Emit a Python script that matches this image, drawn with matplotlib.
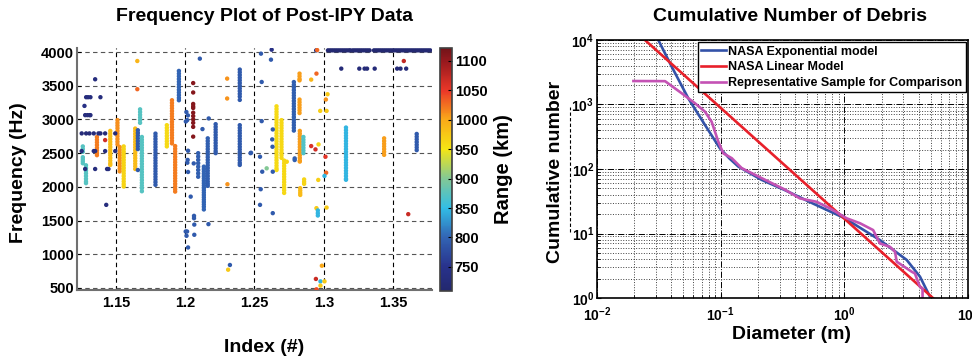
import numpy as np
import matplotlib
matplotlib.use("Agg")
import matplotlib.pyplot as plt
from matplotlib.colors import LinearSegmentedColormap, Normalize
from matplotlib.lines import Line2D

plt.rcParams['font.family'] = ['Liberation Sans', 'DejaVu Sans']
plt.rcParams['font.weight'] = 'bold'
plt.rcParams['mathtext.fontset'] = 'custom'
plt.rcParams['mathtext.rm'] = 'Liberation Sans:bold'
plt.rcParams['mathtext.it'] = 'Liberation Sans:bold'
plt.rcParams['mathtext.bf'] = 'Liberation Sans:bold'

# ---------------- left panel data (Post-IPY frequency plot) ----------------
# vertical tracks: index position, range (km), frequencies (Hz)
col_index = [1.1262, 1.1285, 1.1364, 1.1460, 1.1512, 1.1528, 1.1557, 1.1640, 1.1659,
             1.1675, 1.1688, 1.1786, 1.1868, 1.1905, 1.1928, 1.1955, 1.2058, 1.2094,
             1.2135, 1.2163, 1.2220, 1.2394, 1.2394, 1.2659, 1.2695, 1.2714, 1.2784,
             1.2825, 1.2825, 1.2827, 1.2830, 1.2853, 1.2858, 1.3160, 1.3435, 1.3670]
col_range = [872, 872, 1020, 982, 1012, 1012, 965, 985, 790,
             872, 872, 790, 960, 1020, 1020, 800, 1110, 795,
             800, 795, 790, 790, 790, 960, 962, 962, 795,
             1005, 1005, 1005, 985, 870, 965, 845, 1005, 790]
col_freq = [
    [2600, 2560, 2520, 2440, 2410, 2380, 2350],
    [2320, 2280, 2240, 2200, 2160, 2120, 2080, 2055],
    [2740, 2700, 2660, 2620, 2580, 2540, 2500, 2470],
    [2830, 2790, 2750, 2710, 2670, 2630, 2590, 2550, 2510, 2470, 2430, 2390, 2350, 2325],
    [2990, 2950, 2910, 2870, 2830, 2790, 2750, 2710, 2670, 2630],
    [2590, 2550, 2510, 2470, 2430, 2390, 2350, 2310, 2270, 2230],
    [2600, 2560, 2520, 2480, 2440, 2400, 2360, 2320, 2280, 2240, 2200, 2160, 2120, 2080, 2040, 2005],
    [2865, 2825, 2785, 2745, 2705, 2665, 2625, 2585, 2545, 2505, 2465, 2425, 2385, 2345, 2305, 2265],
    [2840, 2800, 2760, 2720, 2680, 2640, 2600, 2560],
    [3150, 3110, 3070, 3030, 2990, 2950],
    [2740, 2700, 2660, 2620, 2580, 2540, 2500, 2460, 2420, 2380, 2340, 2300, 2260, 2220,
     2180, 2140, 2100, 2060, 2020, 1980, 1935],
    [2790, 2750, 2710, 2670, 2630, 2590, 2550, 2510, 2470, 2430, 2390, 2350, 2310, 2270,
     2230, 2190, 2150, 2110, 2070, 2030],
    [2915, 2875, 2835, 2795, 2755, 2715, 2675, 2635, 2600],
    [3285, 3245, 3205, 3165, 3125, 3085, 3045, 3005, 2965, 2925, 2885, 2845, 2805, 2765,
     2725, 2685, 2645],
    [2605, 2565, 2525, 2485, 2445, 2405, 2365, 2325, 2285, 2245, 2205, 2165, 2125, 2085,
     2045, 2005, 1965, 1930],
    [3720, 3680, 3640, 3600, 3560, 3520, 3480, 3440, 3400, 3360, 3320, 3285],
    [3540, 3400, 3230, 3195, 3170, 3100, 3050, 3000, 2950, 2890, 2745],
    [2500, 2450, 2400, 2350, 2300, 2250, 2200, 2150],
    [2300, 2265, 2230, 2195, 2160, 2125, 2090, 2055, 2020, 1985, 1950, 1915, 1880, 1845,
     1810, 1775, 1740, 1705, 1665],
    [2720, 2680, 2640, 2600, 2560, 2520, 2480, 2440, 2400, 2360, 2320, 2280, 2240, 2200,
     2160, 2120, 2080, 2045, 2015],
    [2930, 2890, 2850, 2810, 2770, 2730, 2690, 2650, 2610, 2570, 2530, 2500],
    [3740, 3700, 3660, 3620, 3580, 3540, 3500, 3460, 3420, 3380, 3340, 3290],
    [2915, 2875, 2835, 2795, 2755, 2715, 2675, 2635, 2595, 2555, 2515, 2475, 2435, 2395,
     2355, 2325],
    [3195, 3155, 3115, 3075, 3035, 2995, 2955, 2915, 2875, 2835, 2795, 2755, 2715, 2675,
     2635, 2595, 2555, 2515, 2475, 2435, 2395, 2355, 2315, 2275, 2250],
    [2990, 2950, 2910, 2870, 2830, 2790, 2750, 2710, 2670, 2630, 2590, 2550, 2510, 2470, 2430],
    [2390, 2350, 2310, 2270, 2230, 2190, 2150, 2110, 2070, 2030, 1990, 1950, 1910],
    [3555, 3515, 3475, 3435, 3395, 3355, 3315, 3275, 3235, 3195, 3155, 3115, 3075, 3035,
     2995, 2955, 2915, 2875, 2835],
    [3680, 3640, 3600, 3580],
    [3295, 3255, 3215, 3175, 3135, 3095],
    [2830, 2790, 2750, 2710, 2670, 2630, 2590, 2550, 2510, 2470, 2430, 2390, 2375],
    [1980, 1945, 1910, 1880],
    [2740, 2700, 2660, 2620, 2580, 2540, 2500],
    [2110, 2075, 2045],
    [2880, 2840, 2800, 2760, 2720, 2680, 2640, 2600, 2560, 2520, 2480, 2440, 2400, 2360,
     2320, 2280, 2240, 2200, 2160, 2120, 2105],
    [2720, 2680, 2640, 2600, 2560, 2520, 2475],
    [2785, 2745, 2705, 2665, 2625, 2585, 2545],
]

# horizontal runs of near-range echoes (~725 km)
row4025_index = [1.3030, 1.3045, 1.3060, 1.3075, 1.3090, 1.3105, 1.3120, 1.3135, 1.3150,
                 1.3165, 1.3180, 1.3192, 1.3210, 1.3225, 1.3240, 1.3255, 1.3270, 1.3285,
                 1.3300, 1.3315, 1.3330, 1.3362, 1.3377, 1.3392, 1.3407, 1.3422, 1.3437,
                 1.3452, 1.3467, 1.3482, 1.3497, 1.3512, 1.3527, 1.3542, 1.3557, 1.3572,
                 1.3587, 1.3602, 1.3617, 1.3632, 1.3647, 1.3662, 1.3677, 1.3692, 1.3707,
                 1.3722, 1.3737, 1.3752, 1.3767]
row3754_index = [1.3126, 1.3256, 1.3294, 1.3312, 1.3367, 1.3529, 1.3553, 1.3594]
row2793_index = [1.1254, 1.1286, 1.1310, 1.1341, 1.1375, 1.1389, 1.1423, 1.1496]

# isolated detections
pt_index = [1.1351, 1.1286, 1.1300, 1.1317, 1.1389, 1.1274, 1.1279, 1.1295, 1.1310, 1.1317,
            1.1254, 1.1341, 1.1351, 1.1423, 1.1496, 1.1279, 1.1351, 1.1437, 1.1447, 1.1431,
            1.1423, 1.1655, 1.1655, 1.1659,
            1.2009, 1.2020, 1.2015, 1.2005, 1.2021, 1.2018, 1.2016, 1.2021, 1.2040, 1.2004,
            1.2014, 1.2010, 1.2021, 1.2062, 1.2064, 1.2064, 1.2066, 1.2066, 1.2106, 1.2125,
            1.2170, 1.2168, 1.2303, 1.2303, 1.2305, 1.2323, 1.2310, 1.2472,
            1.2624, 1.2547, 1.2619, 1.2552, 1.2552, 1.2632, 1.2628, 1.2630, 1.2475, 1.2540,
            1.2556, 1.2632, 1.2545, 1.2540, 1.2632, 1.2588, 1.2733, 1.2790, 1.2790,
            1.2909, 1.2947, 1.2909, 1.2940, 1.2962, 1.2974, 1.2960, 1.2947, 1.2957, 1.2957,
            1.2957, 1.2945, 1.2952, 1.3015, 1.3027, 1.3020, 1.3012, 1.3017, 1.3005, 1.3020,
            1.2986, 1.2943, 1.2976, 1.3005, 1.2976, 1.2947, 1.3577, 1.3609]
pt_freq = [3596, 3330, 3330, 3330, 3330, 3201, 3064, 3064, 3064, 3064,
           2531, 2531, 2531, 2531, 2531, 2265, 2265, 2265, 2265, 1733,
           2694, 3867, 3449, 2250,
           3110, 3060, 2990, 2970, 2536, 2400, 2358, 2221, 1855, 1338,
           1338, 1274, 1101, 2348, 1570, 1535, 1440, 1289, 3902, 2857,
           3015, 1447, 3606, 3311, 2039, 841, 771, 2500,
           4035, 3976, 3887, 3556, 2975, 2852, 2704, 2595, 2506, 2447,
           2225, 2225, 1965, 1733, 1610, 2275, 2373, 2422, 2398,
           3591, 3680, 2605, 2556, 2630, 3127, 2103, 1684, 1650, 1610,
           1575, 4025, 4030, 3296, 3374, 3127, 2447, 2210, 2162, 1693,
           830, 634, 598, 598, 535, 480, 3867, 1595]
pt_range = [730, 730, 730, 730, 730, 740, 730, 730, 730, 730,
            730, 730, 730, 730, 730, 730, 730, 730, 730, 730,
            1065, 990, 1030, 790,
            790, 790, 790, 790, 790, 790, 790, 790, 790, 790,
            790, 790, 790, 790, 790, 790, 790, 790, 790, 790,
            790, 790, 1010, 1010, 1010, 790, 975, 790,
            740, 790, 790, 790, 790, 790, 790, 790, 790, 790,
            790, 790, 790, 790, 790, 900, 965, 795, 795,
            990, 1030, 1060, 1065, 965, 970, 970, 975, 845, 845,
            845, 730, 1030, 1010, 975, 975, 1055, 1030, 845, 975,
            1000, 1070, 845, 975, 975, 1040, 1075, 1070]

# ---------------- right panel data (cumulative debris number) ----------------
exp_diam = [0.0313, 0.0402, 0.0547, 0.0747, 0.0986, 0.118, 0.139, 0.214, 0.331, 0.561,
            1.01, 1.94, 3.19, 4.09, 4.92]
exp_count = [10000, 3855, 1248, 481, 209, 145, 109, 68, 47, 29,
             17.2, 7.9, 3.9, 2.14, 1.05]
lin_diam = [0.0244, 5.2]
lin_count = [10000, 1.0]
sample_diam = [0.0197, 0.0355, 0.0484, 0.062, 0.0746, 0.0845, 0.0957, 0.105, 0.123, 0.148,
               0.215, 0.33, 0.437, 0.597, 0.766, 1.045, 1.34, 1.71, 1.94, 2.34, 2.57,
               2.65, 3.50, 3.72, 4.08, 4.29, 4.29]
sample_count = [2311, 2300, 1493, 1045, 775, 541, 265, 175, 147, 103,
                72, 48, 35, 31, 24.5, 17.2, 14.4, 11.3, 7.0, 6.2, 5.2,
                3.66, 2.56, 2.4, 1.5, 1.4, 0.9]

# assemble scatter arrays
idx_all, freq_all, rng_all = [], [], []
for x, r, fs in zip(col_index, col_range, col_freq):
    idx_all += [x] * len(fs)
    freq_all += fs
    rng_all += [r] * len(fs)
idx_all += row4025_index
freq_all += [4025] * len(row4025_index)
rng_all += [715] * len(row4025_index)
idx_all += row3754_index
freq_all += [3754] * len(row3754_index)
rng_all += [722] * len(row3754_index)
idx_all += row2793_index
freq_all += [2793] * len(row2793_index)
rng_all += [722] * len(row2793_index)
idx_all += pt_index
freq_all += pt_freq
rng_all += pt_range

# muted jet-like colour map as printed
cmap = LinearSegmentedColormap.from_list("printed_jet", [
    (0.000, (35/255, 40/255, 110/255)),
    (0.099, (40/255, 50/255, 140/255)),
    (0.220, (50/255, 100/255, 180/255)),
    (0.341, (50/255, 190/255, 230/255)),
    (0.462, (130/255, 200/255, 150/255)),
    (0.584, (245/255, 230/255, 20/255)),
    (0.705, (250/255, 170/255, 25/255)),
    (0.826, (235/255, 55/255, 40/255)),
    (0.947, (150/255, 25/255, 30/255)),
    (1.000, (115/255, 20/255, 25/255)),
])
norm = Normalize(709, 1122)

fig = plt.figure(figsize=(9.72, 3.59), dpi=100)

# ---------------- left panel ----------------
ax1 = fig.add_axes([0.0792, 0.1922, 0.3652, 0.6741])
sc = ax1.scatter(idx_all, freq_all, c=rng_all, cmap=cmap, norm=norm, s=10, linewidths=0, zorder=3)
ax1.set_xlim(1.122, 1.378)
ax1.set_ylim(470, 4060)
ax1.set_xticks([1.15, 1.2, 1.25, 1.3, 1.35])
ax1.set_xticklabels(["1.15", "1.2", "1.25", "1.3", "1.35"])
ax1.set_yticks([500, 1000, 1500, 2000, 2500, 3000, 3500, 4000])
ax1.tick_params(labelsize=10.5, direction='in', length=3, pad=2)
ax1.tick_params(axis='x', pad=4)
ax1.xaxis.grid(True, linestyle=(0, (4, 3)), color='black', linewidth=0.8)
ax1.yaxis.grid(True, linestyle=(0, (4, 3)), color='#555555', linewidth=0.8)
ax1.set_axisbelow(True)
for s in ['top', 'right']:
    ax1.spines[s].set_visible(False)
for s in ['left', 'bottom']:
    ax1.spines[s].set_color('#707070')
    ax1.spines[s].set_linewidth(1.5)

cax = fig.add_axes([0.4527, 0.1894, 0.0123, 0.6769])
cb = fig.colorbar(sc, cax=cax, ticks=[750, 800, 850, 900, 950, 1000, 1050, 1100])
cb.ax.tick_params(labelsize=10.5, direction='in', length=3, pad=2)
cb.outline.set_edgecolor('#404040')
cb.outline.set_linewidth(1.2)

fig.text(0.2726, 0.955, "Frequency Plot of Post-IPY Data", ha='center', va='center',
         fontsize=14, fontweight='bold')
fig.text(0.019, 0.52, "Frequency (Hz)", rotation=90, ha='center', va='center',
         fontsize=14, fontweight='bold')
fig.text(0.2716, 0.033, "Index (#)", ha='center', va='center', fontsize=14, fontweight='bold')
fig.text(0.518, 0.53, "Range (km)", rotation=90, ha='center', va='center',
         fontsize=14.5, fontweight='bold')

# ---------------- right panel ----------------
ax2 = fig.add_axes([0.6142, 0.1699, 0.3817, 0.7187])
ax2.loglog(exp_diam, exp_count, color='#3352a8', linewidth=1.9, label='NASA Exponential model')
ax2.loglog(lin_diam, lin_count, color='#e8202a', linewidth=1.9, label='NASA Linear Model')
ax2.loglog(sample_diam, sample_count, color='#c452b4', linewidth=1.9,
           label='Representative Sample for Comparison')
ax2.set_xlim(1e-2, 1e1)
ax2.set_ylim(1e0, 1e4)
ax2.grid(True, which='major', linestyle='-.', color='black', linewidth=0.7)
ax2.grid(True, which='minor', linestyle=':', color='#404040', linewidth=0.7)
ax2.tick_params(which='both', direction='in', labelsize=10, pad=2)
ax2.tick_params(axis='x', which='both', pad=5)
ax2.tick_params(which='major', length=3)
ax2.tick_params(which='minor', length=2)
for s in ax2.spines.values():
    s.set_linewidth(1.2)
leg = ax2.legend(loc='upper right', fontsize=9, fancybox=False, framealpha=1,
                 edgecolor='black', borderaxespad=0.2, borderpad=0.25,
                 labelspacing=0.3, handlelength=2.0, handletextpad=0.2)
leg.get_frame().set_linewidth(1.0)

fig.text(0.8128, 0.955, "Cumulative Number of Debris", ha='center', va='center',
         fontsize=14, fontweight='bold')
fig.text(0.571, 0.52, "Cumulative number", rotation=90, ha='center', va='center',
         fontsize=14, fontweight='bold')
fig.text(0.8148, 0.067, "Diameter (m)", ha='center', va='center', fontsize=14, fontweight='bold')

# faint dashed trace left between the panels
fig.add_artist(Line2D([0.5865, 0.5865], [0.354, 0.702], transform=fig.transFigure,
                      color='black', linewidth=0.8, linestyle=(0, (3, 2))))

fig.savefig("out.png", dpi=100)
